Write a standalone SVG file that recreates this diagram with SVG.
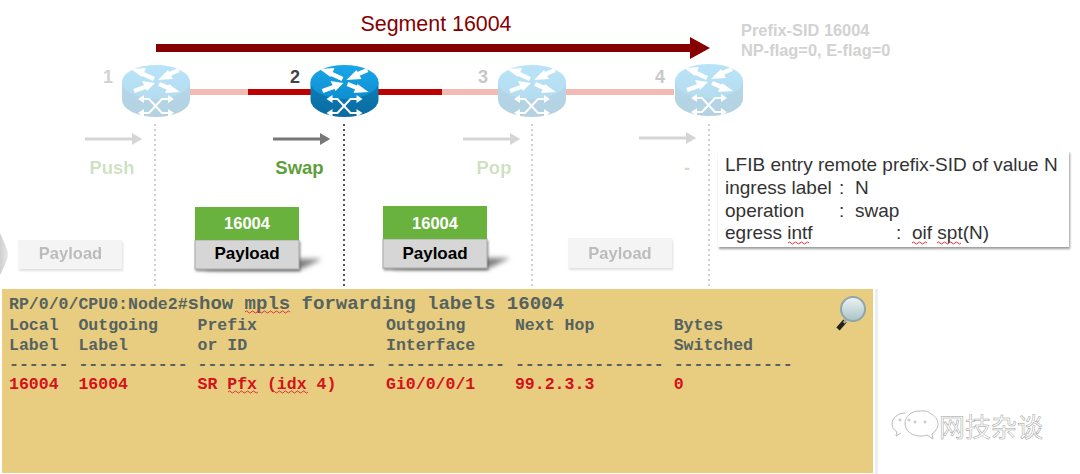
<svg xmlns="http://www.w3.org/2000/svg" width="1080" height="474" viewBox="0 0 1080 474">
<style>
text{font-family:"Liberation Sans",Arial,sans-serif}
.b{font-weight:bold}
.m{font-family:"Liberation Mono","Courier New",monospace;font-weight:bold;font-size:16.55px;fill:#55625f;white-space:pre}
.r{fill:#d3121c}
.n{font-size:18px;font-weight:bold;text-anchor:middle}
.op{font-size:18.5px;font-weight:bold;text-anchor:middle;fill:#5f9e3c}
.l{font-size:19px;fill:#333}
.sq{fill:none;stroke:#d9333a;stroke-width:1}
.dot{stroke:#666;stroke-width:2;stroke-dasharray:2 3;fill:none}
.arr{stroke:#777;stroke-width:3;fill:none}
.wa{fill:#fff;stroke:none}
.wl{fill:none;stroke:#fff;stroke-width:2}
.ws{fill:none;stroke:#fff;stroke-width:4.500}
.faded{opacity:.3}
</style>
<defs>
<filter id="blur" x="-30%" y="-60%" width="160%" height="220%"><feGaussianBlur stdDeviation="2.500"/></filter>
<filter id="boxs" x="-5%" y="-10%" width="110%" height="125%"><feDropShadow dx="1" dy="2" stdDeviation="1.200" flood-color="#555" flood-opacity=".6"/></filter>
<linearGradient id="top" x1="0" y1="0" x2="0" y2="1"><stop offset="0" stop-color="#19a6ea"/><stop offset="1" stop-color="#0e8fcf"/></linearGradient>
<linearGradient id="side" x1="0" y1="0" x2="0" y2="1"><stop offset="0" stop-color="#0b80bb"/><stop offset="1" stop-color="#0a6a9e"/></linearGradient>
<linearGradient id="lens" x1="0" y1="0" x2="0" y2="1"><stop offset="0" stop-color="#eef3f3"/><stop offset="1" stop-color="#a9c3c7"/></linearGradient>
<linearGradient id="chev" x1="0" y1="0" x2="1" y2="0"><stop offset="0" stop-color="#cfcfcf"/><stop offset="1" stop-color="#e8e8e8"/></linearGradient>
<marker id="ah" markerWidth="4" markerHeight="4" refX="1" refY="2" orient="auto"><path d="M0 0L3.400 2L0 4Z" fill="#777"/></marker>
<g id="router">
<path d="M-34 -18V0A34 17 0 0 0 34 0V-18Z" fill="url(#side)"/>
<ellipse cx="0" cy="-18" rx="34" ry="17" fill="url(#top)"/>
<path class="ws" d="M-15 -27L-2 -21"/><path class="wa" d="M-25 -31L-10 -32L-14 -23Z"/>
<path class="ws" d="M23 -30L9 -24"/><path class="wa" d="M2 -20L17 -21L12 -30Z"/>
<path class="ws" d="M-22 -9L-8 -14"/><path class="wa" d="M-1 -17L-14 -19L-9 -9Z"/>
<path class="ws" d="M3 -16L15 -11"/><path class="wa" d="M24 -8L9 -7L13 -16Z"/>
<path class="wl" d="M-13 -1H-7L6 13H13M-13 13H-7L6 -1H13"/>
<path class="wa" d="M-12 -5L-18 -1L-12 3ZM-12 9L-18 13L-12 17ZM12 -5L18 -1L12 3ZM12 9L18 13L12 17Z"/>
</g>
</defs>

<g id="connectors">
<path d="M190 92H248M442 92H498M566 92H674" stroke="#f3b9b3" stroke-width="6" fill="none"/>
<path d="M248 92H311M378 92H442" stroke="#bd0000" stroke-width="6" fill="none"/>
<path d="M156 44H690V37L710 48L690 59V52H156Z" fill="#870000"/>
<g class="faded">
<path class="dot" d="M155 124V289"/>
<path class="dot" d="M532 124V289"/>
<path class="dot" d="M709 124V289"/>
<path class="arr" d="M85 139H135" marker-end="url(#ah)"/>
<path class="arr" d="M463 139H513" marker-end="url(#ah)"/>
<path class="arr" d="M639 138H689" marker-end="url(#ah)"/>
</g>
<path class="dot" d="M344 124V289" style="stroke:#555"/>
<path class="arr" d="M273 139H323" marker-end="url(#ah)"/>
</g>

<text x="436" y="31" font-size="21.400" text-anchor="middle" fill="#870000">Segment 16004</text>
<g class="b" font-size="16.400" fill="#d2d2d2">
<text x="741" y="36">Prefix-SID 16004</text>
<text x="741" y="56">NP-flag=0, E-flag=0</text>
</g>

<g id="node1"><use href="#router" x="156" y="100" class="faded"/><text class="n" x="108" y="83" fill="#d2d2d2">1</text></g>
<g id="node2"><use href="#router" x="344.500" y="100"/><text class="n" x="295" y="83" fill="#444">2</text></g>
<g id="node3"><use href="#router" x="532" y="100" class="faded"/><text class="n" x="483" y="83" fill="#c8c8c8">3</text></g>
<g id="node4"><use href="#router" x="709" y="99" class="faded"/><text class="n" x="660" y="83" fill="#c8c8c8">4</text></g>

<text class="op" x="112" y="174" opacity=".3">Push</text>
<text class="op" x="299.500" y="174">Swap</text>
<text class="op" x="494" y="174" opacity=".3">Pop</text>
<text class="op" x="687" y="174" opacity=".3">-</text>

<path d="M0 233Q8 250 8 254Q8 260 0 275Z" fill="url(#chev)"/>
<g id="packet-a" opacity=".3">
<rect x="18" y="240" width="104" height="29" fill="#ddd" filter="url(#boxs)"/>
<text x="70.500" y="259" font-size="16.500" class="b" text-anchor="middle" fill="#222">Payload</text>
</g>
<g id="packet-b">
<path d="M299 259L322 259L299 270H205V268Z" fill="#808080" filter="url(#blur)"/>
<rect x="195" y="240" width="104" height="29" fill="#d6d6d6" stroke="#aaa" filter="url(#boxs)"/>
<rect x="195" y="207" width="104" height="33" fill="#6ab23e"/>
<text x="247" y="229" font-size="16.500" class="b" text-anchor="middle" fill="#fff">16004</text>
<text x="247" y="259" font-size="17" class="b" text-anchor="middle" fill="#000">Payload</text>
</g>
<g id="packet-c">
<path d="M487 258L510 258L487 269H393V267Z" fill="#808080" filter="url(#blur)"/>
<rect x="383" y="239" width="104" height="29" fill="#d6d6d6" stroke="#aaa" filter="url(#boxs)"/>
<rect x="383" y="206" width="104" height="33" fill="#6ab23e"/>
<text x="435" y="229" font-size="16.500" class="b" text-anchor="middle" fill="#fff">16004</text>
<text x="435" y="259" font-size="17" class="b" text-anchor="middle" fill="#000">Payload</text>
</g>
<g id="packet-d" opacity=".3">
<rect x="568" y="238" width="104" height="30" fill="#ddd" filter="url(#boxs)"/>
<text x="620" y="259" font-size="16.500" class="b" text-anchor="middle" fill="#222">Payload</text>
</g>

<g id="lfib">
<rect x="718" y="151" width="351" height="96" fill="#fff" filter="url(#boxs)"/>
<text class="l" x="725" y="171">LFIB entry remote prefix-SID of value N</text>
<text class="l" x="725" y="194">ingress label<tspan x="839">:</tspan><tspan x="855">N</tspan></text>
<text class="l" x="725" y="217">operation<tspan x="839">:</tspan><tspan x="855">swap</tspan></text>
<text class="l" x="725" y="239">egress intf<tspan x="896">:</tspan><tspan x="912">oif spt(N)</tspan></text>
<path class="sq" d="M788 243q1.500 -2 3 0t3 0t3 0t3 0t3 0t3 0t3 0M912 243q1.500 -2 3 0t3 0t3 0t3 0t3 0M937 243q1.500 -2 3 0t3 0t3 0t3 0t3 0t3 0t3 0t3 0"/>
</g>

<g id="cli">
<rect x="875" y="289" width="3" height="185" fill="#eee"/>
<rect x="2" y="289" width="871" height="184" fill="#e8cd80"/>
<text class="m" x="9" y="309">RP/0/0/CPU0:Node2#<tspan style="font-size:19px">show mpls forwarding labels 16004</tspan></text>
<text class="m" x="9" y="330">Local  Outgoing    Prefix             Outgoing     Next Hop        Bytes</text>
<text class="m" x="9" y="350">Label  Label       or ID              Interface                    Switched</text>
<text class="m" x="9" y="369">------ ----------- ------------------ ------------ --------------- ------------</text>
<text class="m r" x="9" y="389">16004  16004       SR Pfx (idx 4)     Gi0/0/0/1    99.2.3.3        0</text>
<path class="sq" d="M245 312q1.500 -2 3 0t3 0t3 0t3 0t3 0t3 0t3 0t3 0t3 0t3 0t3 0t3 0t3 0t3 0t3 0M228 392q1.500 -2 3 0t3 0t3 0t3 0t3 0t3 0t3 0t3 0t3 0t3 0M272 392q1.500 -2 3 0t3 0t3 0t3 0t3 0t3 0t3 0t3 0t3 0t3 0t3 0t3 0"/>
<g id="magnifier">
<path d="M845 321L838 329" stroke="#222" stroke-width="4.500" fill="none"/>
<path d="M847 318L844 323" stroke="#aaa" stroke-width="2.500"/>
<circle cx="853" cy="309" r="12" fill="url(#lens)" stroke="#8fa7ab" stroke-width="2"/>
</g>
</g>

<g id="watermark" fill="none" stroke="#bbb" stroke-width="1">
<g transform="translate(0 -27)">
<path d="M905 440c-7 0-13 5-13 11c0 4 2 6 5 8l-1 4l5-3M931 441c-4-4-8-3-12-3c-8 0-14 6-14 12c0 8 7 13 15 13c3 0 4 0 7 -1l6 4l-1-5c3-2 6-6 6-10c0-5-4-9-7-10Z"/>
<circle cx="900" cy="447" r="1"/><circle cx="909" cy="447" r="1"/><circle cx="915" cy="449" r="1"/><circle cx="925" cy="449" r="1"/>
</g>
<text x="939" y="437" font-size="26" fill="#fff" stroke="#a0a0a0" stroke-width=".5" style="font-family:'Noto Sans CJK SC',sans-serif">网技杂谈</text>
</g>
</svg>
